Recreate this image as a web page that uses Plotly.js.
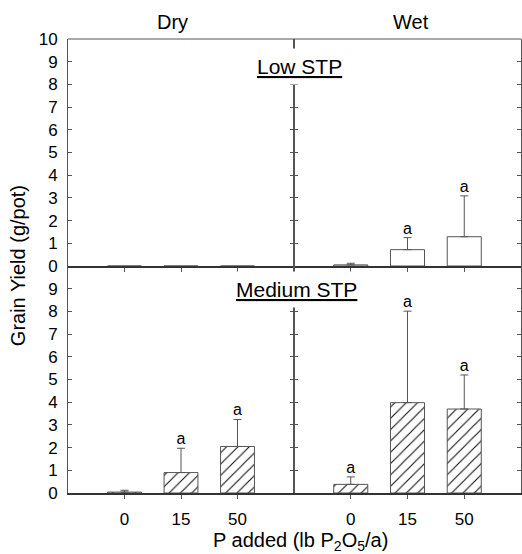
<!DOCTYPE html>
<html>
<head>
<meta charset="utf-8">
<script src="https://cdn.plot.ly/plotly-3.0.1.min.js"></script>
<style>html,body{margin:0;padding:0;background:#fff;}#chart{width:522px;height:554px;}</style>
</head>
<body>
<div id="chart"></div>
<script>
// ---- data ----
var doses = ["0", "15", "50"];
var lowDry = [0, 0, 0];
var lowDryErr = [0, 0, 0];
var lowDryLetters = ["", "", ""];
var lowWet = [0.05, 0.72, 1.29];
var lowWetErr = [0.07, 0.53, 1.80];
var lowWetLetters = ["", "a", "a"];
var medDry = [0.04, 0.90, 2.05];
var medDryErr = [0.08, 1.07, 1.19];
var medDryLetters = ["", "a", "a"];
var medWet = [0.38, 3.98, 3.70];
var medWetErr = [0.33, 4.03, 1.50];
var medWetLetters = ["a", "a", "a"];
var yTicksTop = [0, 1, 2, 3, 4, 5, 6, 7, 8, 9, 10];
var yTicksBottom = [0, 1, 2, 3, 4, 5, 6, 7, 8, 9];

var FONT = "Liberation Sans, Arial, sans-serif";
var EDGE = "#555";

function barTrace(vals, errs, xa, ya, hatched) {
  var marker = {color: "white", line: {color: EDGE, width: 1}};
  if (hatched) {
    marker.pattern = {shape: "/", size: 8, solidity: 0.14, fgcolor: "#111", bgcolor: "white", fillmode: "replace"};
  }
  var hasErr = errs.some(function(e){ return e > 0; });
  return {
    type: "bar", x: doses, y: vals, xaxis: xa, yaxis: ya, width: 0.6,
    marker: marker,
    error_y: {visible: hasErr, type: "data", symmetric: false, array: errs,
              arrayminus: vals.map(function(){return 0;}),
              color: EDGE, thickness: 1, width: 4},
    hoverinfo: "skip"
  };
}
function letterTrace(vals, errs, letters, xa, ya) {
  var xs = [], ys = [], ts = [];
  letters.forEach(function(t, i){
    if (t) { xs.push(doses[i]); ys.push(vals[i] + errs[i]); ts.push(t); }
  });
  return {
    type: "scatter", mode: "text", x: xs, y: ys,
    text: ts, textposition: "top center",
    textfont: {family: FONT, size: 16, color: "#000"},
    xaxis: xa, yaxis: ya, hoverinfo: "skip", cliponaxis: false
  };
}

var data = [
  barTrace(lowDry, lowDryErr, "x", "y", false),
  barTrace(lowWet, lowWetErr, "x2", "y2", false),
  barTrace(medDry, medDryErr, "x3", "y3", true),
  barTrace(medWet, medWetErr, "x4", "y4", true),
  letterTrace(lowWet, lowWetErr, lowWetLetters, "x2", "y2"),
  letterTrace(medDry, medDryErr, medDryLetters, "x3", "y3"),
  letterTrace(medWet, medWetErr, medWetLetters, "x4", "y4")
];

var split = 0.4989;
function xAxis(domain, anchor, labels) {
  return {
    domain: domain, anchor: anchor, type: "category", range: [-1, 3],
    showline: true, linecolor: "#333", linewidth: 2,
    ticks: "outside", ticklen: 4, tickcolor: EDGE, tickwidth: 1,
    showticklabels: labels, showgrid: false, zeroline: false,
    tickfont: {family: FONT, size: 17, color: "#000"},
    ticklabelstandoff: 6, fixedrange: true
  };
}
function yAxis(domain, anchor, vals, labels) {
  return {
    domain: domain, anchor: anchor, range: [0, 10],
    tickvals: vals, ticktext: vals.map(String),
    showline: true, linecolor: EDGE, linewidth: 1, mirror: "ticks",
    ticks: "inside", ticklen: 4, tickcolor: EDGE, tickwidth: 1,
    showticklabels: labels, showgrid: false, zeroline: false,
    tickfont: {family: FONT, size: 17, color: "#000"},
    ticklabelstandoff: 6, fixedrange: true
  };
}

var layout = {
  width: 522, height: 554,
  margin: {l: 68, r: 1, t: 39, b: 61},
  paper_bgcolor: "white", plot_bgcolor: "white",
  showlegend: false, hovermode: false, bargap: 0,
  font: {family: FONT, color: "#000"},
  xaxis: xAxis([0, split], "y", false),
  xaxis2: xAxis([split, 1], "y2", false),
  xaxis3: xAxis([0, split], "y3", true),
  xaxis4: xAxis([split, 1], "y4", true),
  yaxis: yAxis([0.5, 1], "x", yTicksTop, true),
  yaxis2: yAxis([0.5, 1], "x2", yTicksTop, false),
  yaxis3: yAxis([0, 0.5], "x3", yTicksBottom, true),
  yaxis4: yAxis([0, 0.5], "x4", yTicksBottom, false),
  shapes: [
    {type: "line", xref: "paper", yref: "paper", x0: 0, x1: 1, y0: 1, y1: 1, line: {color: EDGE, width: 1}}
  ],
  annotations: [
    {text: "Dry", xref: "paper", yref: "paper", x: 0.2296, y: 1.037, showarrow: false, font: {size: 20}, xanchor: "center", yanchor: "middle"},
    {text: "Wet", xref: "paper", yref: "paper", x: 0.758, y: 1.037, showarrow: false, font: {size: 20}, xanchor: "center", yanchor: "middle"},
    {text: "<u>Low STP</u>", xref: "paper", yref: "paper", x: 0.511, y: 0.9405, showarrow: false, font: {size: 21}, xanchor: "center", yanchor: "middle", bgcolor: "white", borderpad: 6},
    {text: "<u>Medium STP</u>", xref: "paper", yref: "paper", x: 0.5044, y: 0.448, showarrow: false, font: {size: 21}, xanchor: "center", yanchor: "middle", bgcolor: "white", borderpad: 6},
    {text: "Grain Yield (g/pot)", xref: "paper", yref: "paper", x: -0.110, y: 0.5, showarrow: false, textangle: -90, font: {size: 20}, xanchor: "center", yanchor: "middle"},
    {text: "P added (lb P<sub>2</sub>O<sub>5</sub>/a)", xref: "paper", yref: "paper", x: 0.514, y: -0.106, showarrow: false, font: {size: 20}, xanchor: "center", yanchor: "middle"}
  ]
};

Plotly.newPlot("chart", data, layout, {staticPlot: true, displayModeBar: false});
</script>
</body>
</html>
